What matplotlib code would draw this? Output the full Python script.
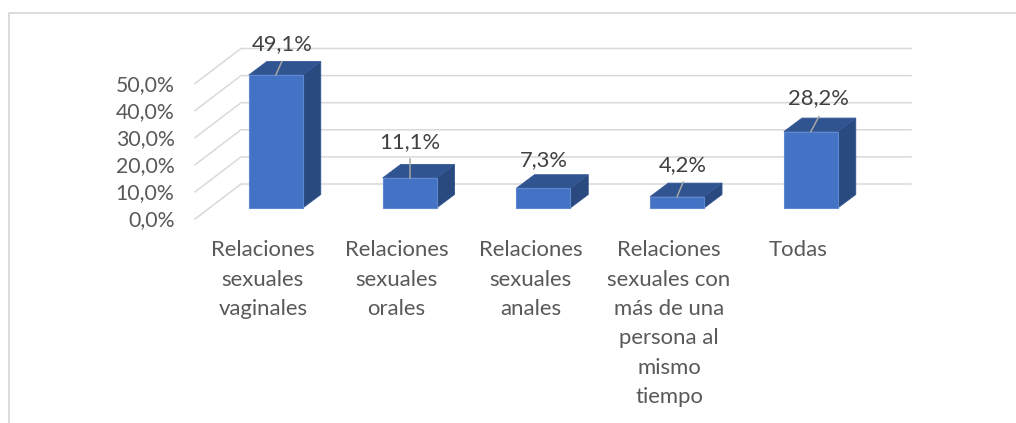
import matplotlib
matplotlib.use("Agg")
import matplotlib.pyplot as plt
from matplotlib.patches import Polygon

plt.rcParams['font.family'] = ['Lato', 'DejaVu Sans']

# data
categories = ["Relaciones\nsexuales\nvaginales", "Relaciones\nsexuales\norales",
              "Relaciones\nsexuales\nanales",
              "Relaciones\nsexuales con\nmás de una\npersona al\nmismo\ntiempo", "Todas"]
values = [49.1, 11.1, 7.3, 4.2, 28.2]
value_labels = ["49,1%", "11,1%", "7,3%", "4,2%", "28,2%"]
y_ticks = [0, 10, 20, 30, 40, 50]
y_labels = ["0,0%", "10,0%", "20,0%", "30,0%", "40,0%", "50,0%"]

W, H = 1016, 423
X0, STEP = 275.85, 133.75   # pixel x of first bar centre, bar spacing
Y0, SCALE = 208.0, 2.71     # pixel y of value 0, pixels per percent

fig = plt.figure(figsize=(W / 100, H / 100), dpi=100)
ax = fig.add_axes([0, 0, 1, 1])
ax.set_xlim(-X0 / STEP, (W - X0) / STEP)
ax.set_ylim((Y0 - H) / SCALE, Y0 / SCALE)
ax.axis('off')

# pixel lengths to data units
def px(n):
    return n / STEP

def py(n):
    return n / SCALE

# outer frame, only left and top are visible in the crop
frame_x = ax.get_xlim()[0] + px(9.3)
frame_y = ax.get_ylim()[1] - py(13)
ax.plot([frame_x, frame_x, ax.get_xlim()[1]], [ax.get_ylim()[0], frame_y, frame_y],
        color='#d9d9d9', lw=1.3, zorder=1, clip_on=False)

# gridlines: front left -> back wall -> right end
for t, lab in zip(y_ticks, y_labels):
    left = (195 - X0) / STEP
    back = (241 - X0) / STEP
    right = (911 - X0) / STEP
    y_front = t - py(11)
    y_back = t + py(24)
    ax.plot([left, back, right], [y_front, y_back, y_back], color='#d9d9d9', lw=1.1,
            solid_joinstyle='miter', zorder=2)
    ax.text(left - px(20.5), y_front - py(1.5), lab, ha='right', va='center',
            fontsize=15.3, color='#595959')

# bars
half = px(26.9)
dx, dy = px(18), py(13.5)
for i, v in enumerate(values):
    front = [(i - half, 0), (i + half, 0), (i + half, v), (i - half, v)]
    top = [(i - half, v), (i + half, v), (i + half + dx, v + dy), (i - half + dx, v + dy)]
    side = [(i + half, 0), (i + half + dx, dy), (i + half + dx, v + dy), (i + half, v)]
    ax.add_patch(Polygon(side, fc='#2a4a7f', ec='#2f5290', lw=0.6, zorder=3))
    ax.add_patch(Polygon(top, fc='#30548f', ec='#36599a', lw=0.6, zorder=3))
    ax.add_patch(Polygon(front, fc='#4472c4', ec='#5f88d2', lw=0.8, zorder=4))

# value labels with their leader lines (pixel offsets from bar top)
label_dx = [6, 0, 1, 6, 8]
label_dy = [31, 36, 28, 32, 33]
leader_top = [13.5, 19, 0, 14.5, 15]
for i, v in enumerate(values):
    ax.text(i + px(label_dx[i]), v + py(label_dy[i]), value_labels[i], ha='center',
            va='center', fontsize=15.8, color='#404040', zorder=6)
    if leader_top[i]:
        ax.plot([i, i + px(label_dx[i])], [v, v + py(leader_top[i])], color='#a6a6a6',
                lw=1.1, zorder=5)

# category labels, the wrapped long one sits a bit right of the others
for i, c in enumerate(categories):
    nudge = 5 if i == 3 else 0
    ax.text(i + px(-13 + nudge), py(-32.5), c, ha='center', va='top', fontsize=15.9,
            color='#595959', linespacing=1.58)

fig.savefig('out.png', dpi=100)
